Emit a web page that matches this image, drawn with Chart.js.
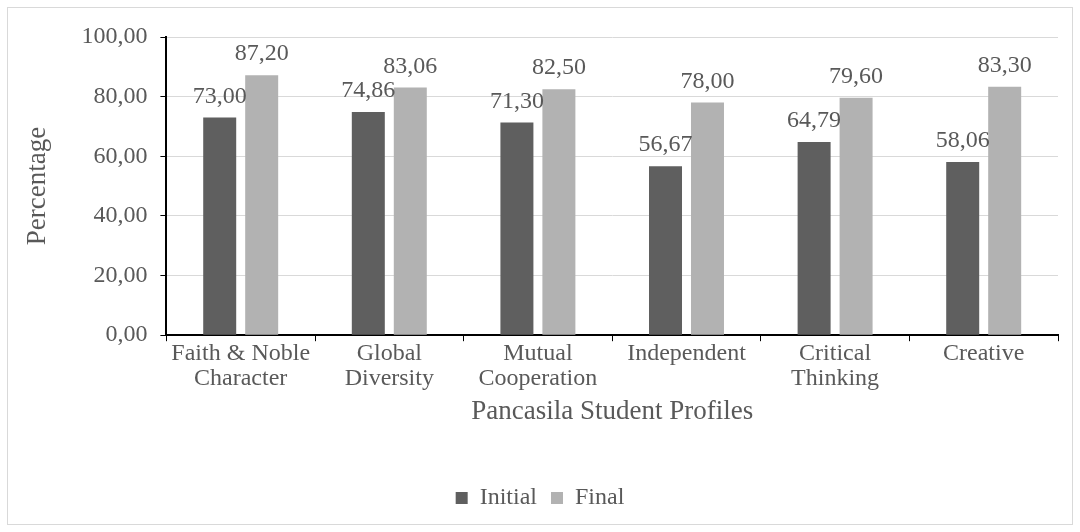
<!DOCTYPE html>
<html lang="en">
<head>
    <meta charset="UTF-8">
    <title>Pancasila Student Profiles</title>
    <script src="https://cdn.jsdelivr.net/npm/chart.js"></script>
    <style>
        html, body { margin: 0; padding: 0; background: #fff; }
        .frame {
            position: absolute;
            left: 7px; top: 7px;
            width: 1064px; height: 516px;
            border: 1px solid #d9d9d9;
        }
    </style>
</head>
<body>
    <div class="frame">
        <canvas id="profileChart" width="1064" height="516"></canvas>
    </div>

    <script>
        // Data
        const profiles = [
            ['Faith & Noble', 'Character'],
            ['Global', 'Diversity'],
            ['Mutual', 'Cooperation'],
            'Independent',
            ['Critical', 'Thinking'],
            'Creative'
        ];
        const initialScores = [73.00, 74.86, 71.30, 56.67, 64.79, 58.06];
        const finalScores = [87.20, 83.06, 82.50, 78.00, 79.60, 83.30];

        const textColor = '#595959';
        const serif = "'Liberation Serif', 'Times New Roman', serif";
        const fmt = v => Number(v).toFixed(2).replace('.', ',');

        Chart.defaults.font.family = serif;
        Chart.defaults.color = textColor;

        // labels drawn above each bar
        const barLabels = {
            id: 'barLabels',
            afterDatasetsDraw(chart) {
                const ctx = chart.ctx;
                ctx.save();
                ctx.font = '24px ' + serif;
                ctx.fillStyle = textColor;
                ctx.textAlign = 'center';
                ctx.textBaseline = 'alphabetic';
                chart.data.datasets.forEach((ds, i) => {
                    chart.getDatasetMeta(i).data.forEach((bar, j) => {
                        ctx.fillText(fmt(ds.data[j]), bar.x, bar.y - 15);
                    });
                });
                ctx.restore();
            }
        };

        new Chart(document.getElementById('profileChart'), {
            type: 'bar',
            data: {
                labels: profiles,
                datasets: [{
                    label: 'Initial',
                    data: initialScores,
                    backgroundColor: '#5f5f5f'
                }, {
                    label: 'Final',
                    data: finalScores,
                    backgroundColor: '#b2b2b2'
                }]
            },
            options: {
                responsive: false,
                animation: false,
                categoryPercentage: 0.565,
                barPercentage: 0.786,
                layout: {
                    padding: { left: 14, right: 14, top: 29, bottom: 4 }
                },
                plugins: {
                    legend: {
                        position: 'bottom',
                        labels: {
                            boxWidth: 12,
                            boxHeight: 12,
                            padding: 14,
                            color: textColor,
                            font: { family: serif, size: 24 }
                        }
                    },
                    tooltip: { enabled: false }
                },
                scales: {
                    x: {
                        grid: {
                            offset: true,
                            drawOnChartArea: false,
                            tickLength: 6,
                            tickColor: '#000'
                        },
                        border: { color: '#000', width: 2 },
                        ticks: {
                            color: textColor,
                            maxRotation: 0,
                            padding: 0,
                            font: { family: serif, size: 24, lineHeight: 1.05 }
                        },
                        title: {
                            display: true,
                            text: 'Pancasila Student Profiles',
                            color: textColor,
                            font: { family: serif, size: 27 },
                            padding: { top: 4, bottom: 44 }
                        }
                    },
                    y: {
                        min: 0,
                        max: 100,
                        ticks: {
                            stepSize: 20,
                            color: textColor,
                            padding: 13,
                            font: { family: serif, size: 24 },
                            callback: v => fmt(v)
                        },
                        grid: {
                            color: '#d9d9d9',
                            tickLength: 6,
                            tickColor: '#000'
                        },
                        border: { color: '#000', width: 2 },
                        title: {
                            display: true,
                            text: 'Percentage',
                            color: textColor,
                            font: { family: serif, size: 27 },
                            padding: { top: 0, bottom: 14 }
                        }
                    }
                }
            },
            plugins: [barLabels]
        });
    </script>
</body>
</html>
